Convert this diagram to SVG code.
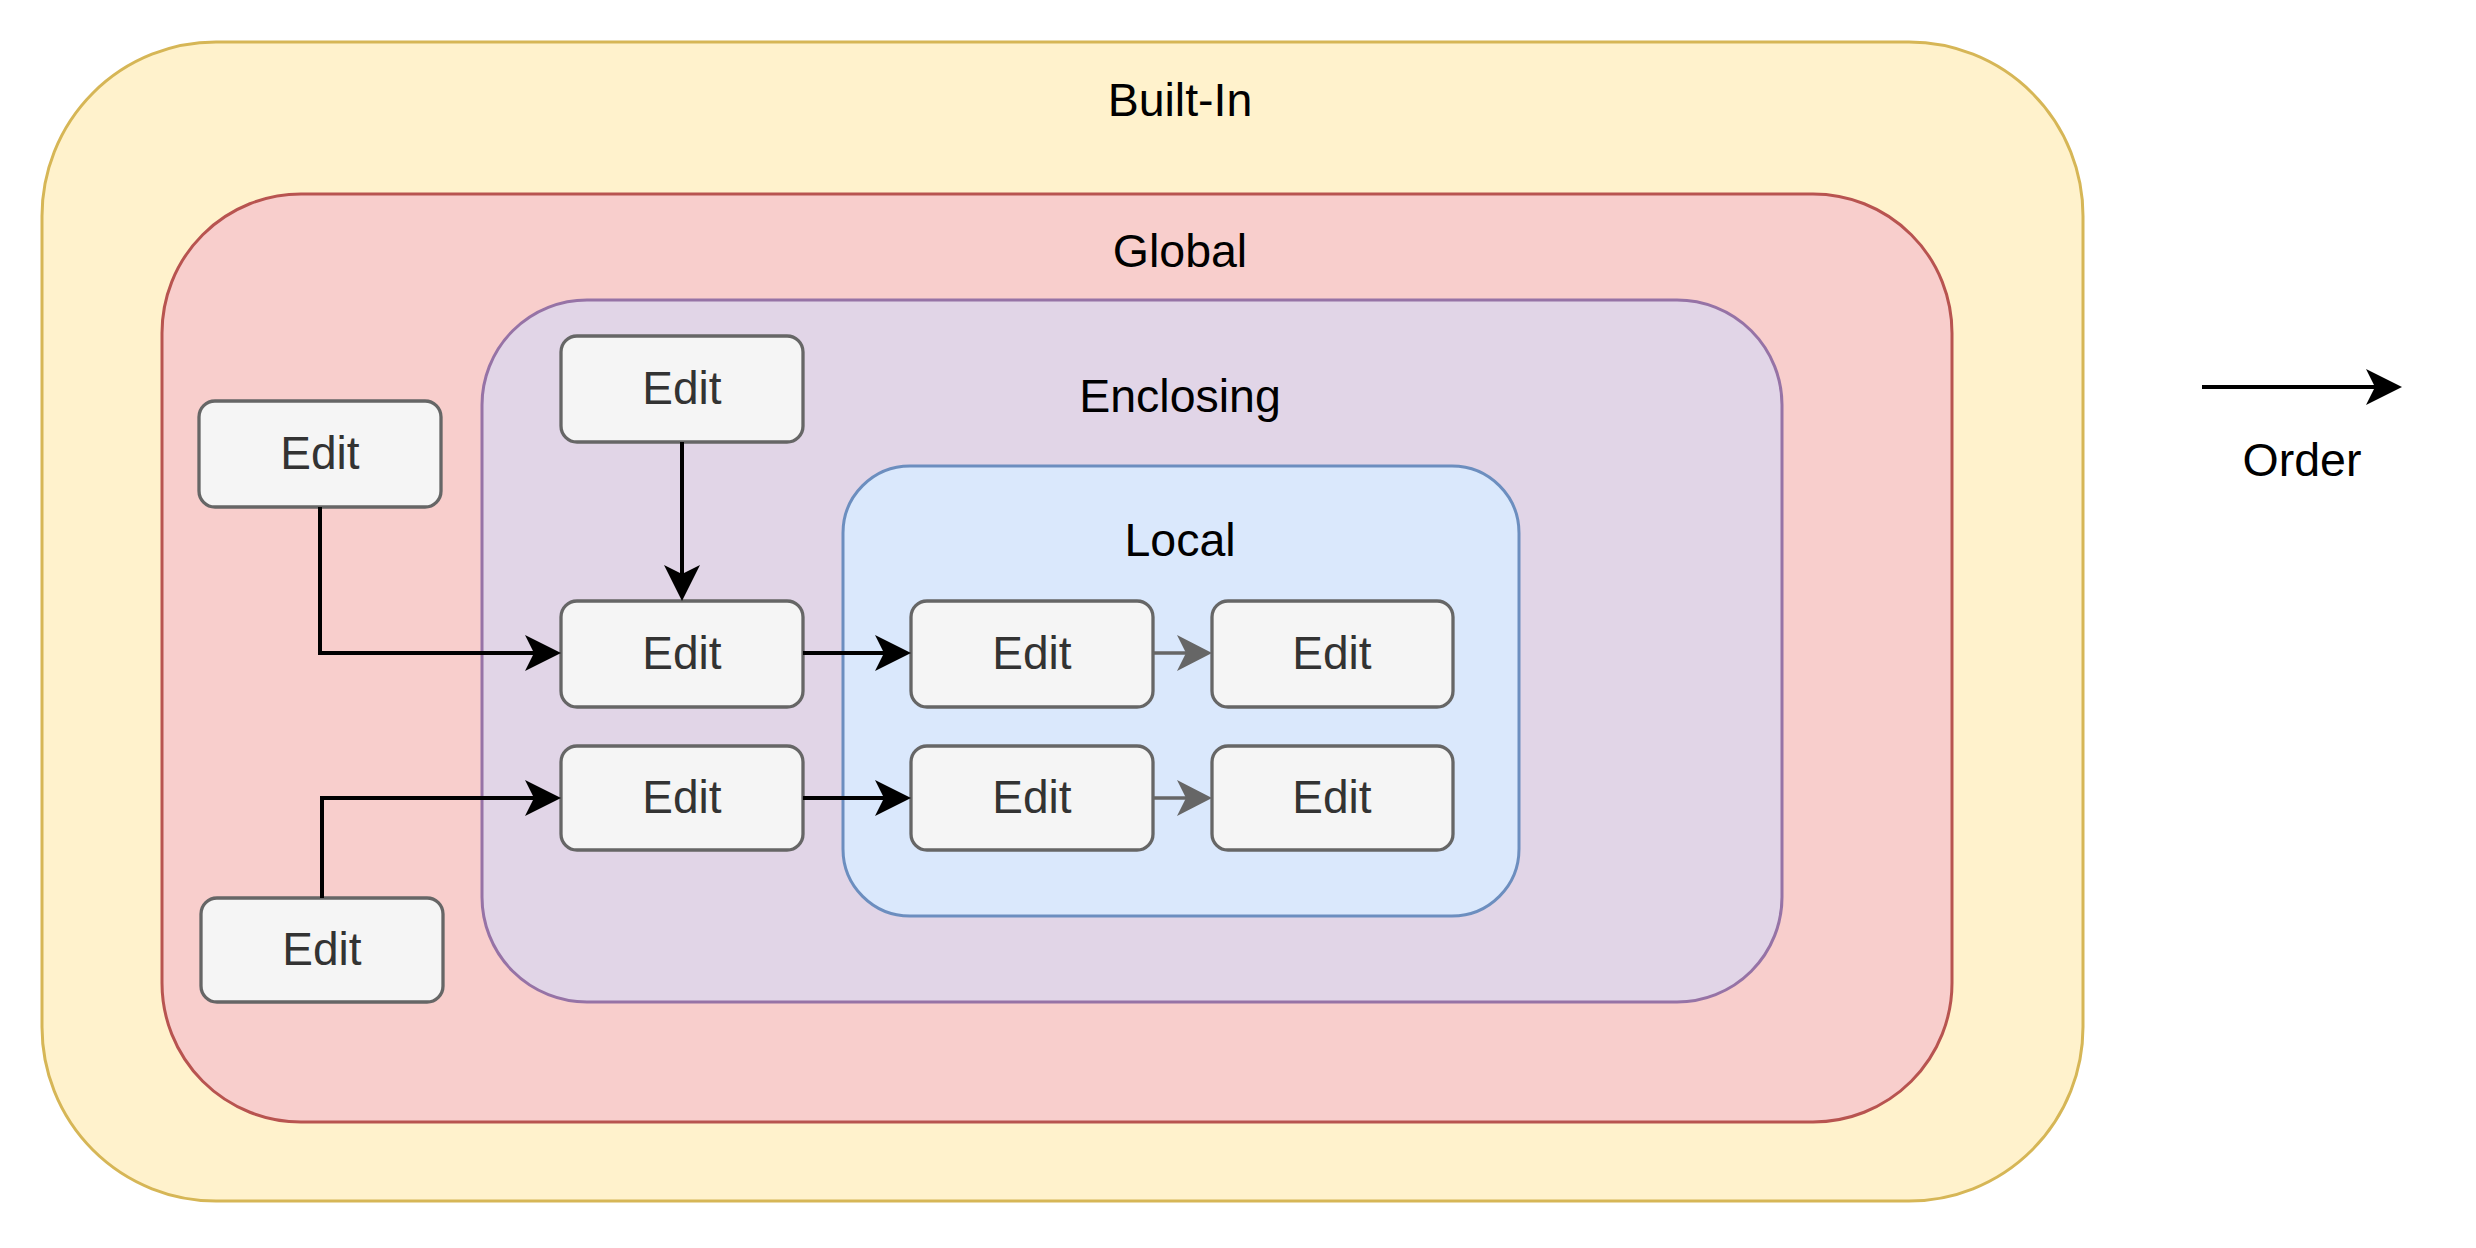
<svg xmlns="http://www.w3.org/2000/svg" width="2476" height="1248" viewBox="0 0 2476 1248">
<style>
.lbl{font-family:"Liberation Sans",Arial,Helvetica,sans-serif;font-size:46.5px;fill:#000;text-anchor:middle}
.etx{font-family:"Liberation Sans",Arial,Helvetica,sans-serif;font-size:46px;fill:#333333;text-anchor:middle}
.box{fill:#f5f5f5;stroke:#666666;stroke-width:3.3}
.blk{fill:none;stroke:#000;stroke-width:4}
.gry{fill:none;stroke:#666666;stroke-width:3.3}
</style>
<defs>
<marker id="ab" markerUnits="userSpaceOnUse" viewBox="0 -18 36 36" markerWidth="36" markerHeight="36" refX="9" refY="0" orient="auto">
<path d="M0,-18 L36,0 L0,18 L9,0 Z" fill="#000"/>
</marker>
<marker id="ag" markerUnits="userSpaceOnUse" viewBox="0 -18 36 36" markerWidth="36" markerHeight="36" refX="9" refY="0" orient="auto">
<path d="M0,-18 L35,0 L0,18 L9,0 Z" fill="#666666"/>
</marker>
</defs>
<rect width="2476" height="1248" fill="#ffffff"/>
<g id="builtin">
<rect x="42" y="42" width="2041" height="1159" rx="174" ry="174" fill="#fff2cc" stroke="#d6b656" stroke-width="3"/>
<text class="lbl" x="1180" y="116">Built-In</text>
</g>
<g id="global">
<rect x="162" y="194" width="1790" height="928" rx="139" ry="139" fill="#f8cecc" stroke="#b85450" stroke-width="3"/>
<text class="lbl" x="1180" y="267">Global</text>
</g>
<g id="enclosing">
<rect x="482" y="300" width="1300" height="702" rx="105" ry="105" fill="#e1d5e7" stroke="#9673a6" stroke-width="3"/>
<text class="lbl" x="1180" y="412">Enclosing</text>
</g>
<g id="local">
<rect x="843" y="466" width="676" height="450" rx="67" ry="67" fill="#dae8fc" stroke="#6c8ebf" stroke-width="3"/>
<text class="lbl" x="1180" y="556">Local</text>
</g>
<g id="edit-global-top">
<rect class="box" x="199" y="401" width="242" height="106" rx="16"/>
<text class="etx" x="320" y="469">Edit</text>
</g>
<g id="edit-global-bottom">
<rect class="box" x="201" y="898" width="242" height="104" rx="16"/>
<text class="etx" x="322" y="965">Edit</text>
</g>
<g id="edit-enclosing-top">
<rect class="box" x="561" y="336" width="242" height="106" rx="16"/>
<text class="etx" x="682" y="404">Edit</text>
</g>
<g id="edit-enclosing-row1">
<rect class="box" x="561" y="601" width="242" height="106" rx="16"/>
<text class="etx" x="682" y="669">Edit</text>
</g>
<g id="edit-enclosing-row2">
<rect class="box" x="561" y="746" width="242" height="104" rx="16"/>
<text class="etx" x="682" y="813">Edit</text>
</g>
<g id="edit-local-r1c1">
<rect class="box" x="911" y="601" width="242" height="106" rx="16"/>
<text class="etx" x="1032" y="669">Edit</text>
</g>
<g id="edit-local-r1c2">
<rect class="box" x="1212" y="601" width="241" height="106" rx="16"/>
<text class="etx" x="1332" y="669">Edit</text>
</g>
<g id="edit-local-r2c1">
<rect class="box" x="911" y="746" width="242" height="104" rx="16"/>
<text class="etx" x="1032" y="813">Edit</text>
</g>
<g id="edit-local-r2c2">
<rect class="box" x="1212" y="746" width="241" height="104" rx="16"/>
<text class="etx" x="1332" y="813">Edit</text>
</g>
<g id="connectors">
<path class="blk" d="M320,507 L320,653 L534,653" marker-end="url(#ab)"/>
<path class="blk" d="M322,898 L322,798 L534,798" marker-end="url(#ab)"/>
<path class="blk" d="M682,442 L682,574" marker-end="url(#ab)"/>
<path class="blk" d="M803,653 L884,653" marker-end="url(#ab)"/>
<path class="blk" d="M803,798 L884,798" marker-end="url(#ab)"/>
<path class="gry" d="M1153,653 L1186,653" marker-end="url(#ag)"/>
<path class="gry" d="M1153,798 L1186,798" marker-end="url(#ag)"/>
</g>
<g id="order">
<path class="blk" d="M2202,387 L2375,387" marker-end="url(#ab)"/>
<text class="lbl" x="2302" y="476">Order</text>
</g>
</svg>
